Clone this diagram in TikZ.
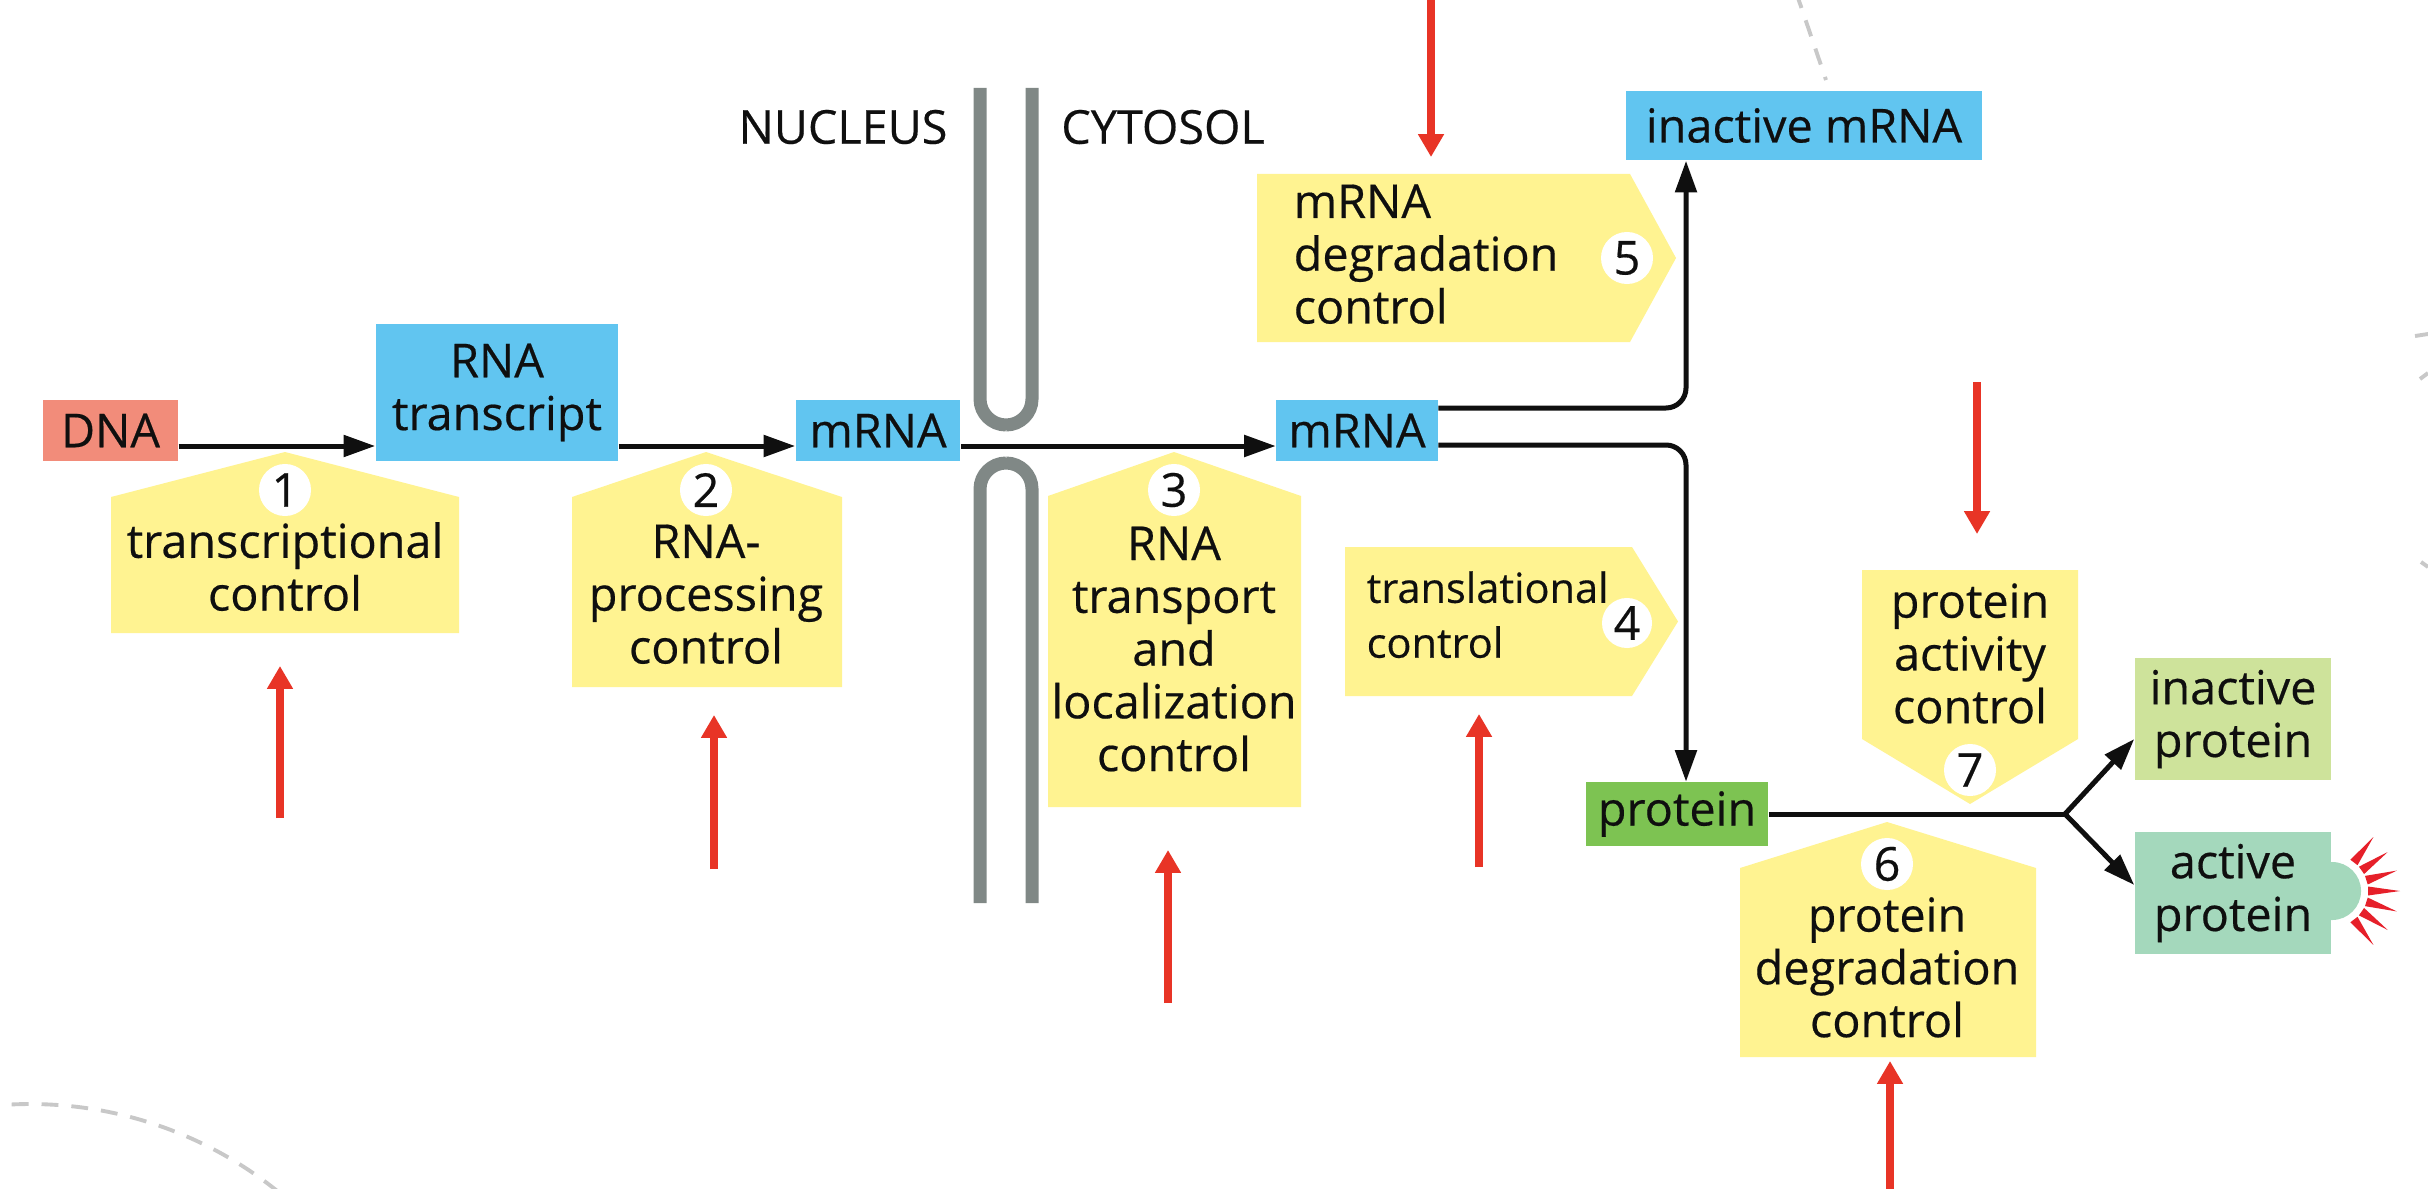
\documentclass[tikz,border=0pt]{standalone}
\usepackage{fontspec}
\setmainfont{Open Sans}[FakeBold=0.4]
\usetikzlibrary{arrows.meta,calc}
\definecolor{yel}{RGB}{255,243,145}
\definecolor{bluec}{RGB}{97,197,240}
\definecolor{dnac}{RGB}{242,140,122}
\definecolor{protc}{RGB}{125,195,82}
\definecolor{inpc}{RGB}{206,227,155}
\definecolor{actc}{RGB}{164,216,188}
\definecolor{membc}{RGB}{128,136,134}
\definecolor{redc}{RGB}{232,52,38}
\definecolor{rayc}{RGB}{230,32,42}
\definecolor{dashc}{RGB}{200,200,200}
\definecolor{txtc}{RGB}{15,15,15}
\newcommand\fsA{\fontsize{13.3pt}{15pt}\selectfont}
\newcommand\fsB{\fontsize{11.8pt}{15.6pt}\selectfont}
\begin{document}
\begin{tikzpicture}[x=0.01cm,y=-0.01cm,
  box/.style={inner sep=0pt, align=center, font=\fsA, text=txtc},
  blk/.style={line width=1.42pt, draw=txtc},
  blkarr/.style={blk, -{Triangle[length=9pt,width=6pt]}},
  redarr/.style={draw=redc, line width=2.3pt, -{Triangle[length=6.5pt,width=7pt]}},
  numc/.style={circle, fill=white, inner sep=0pt, minimum size=5.2mm, font=\fsA, text=txtc},
  ctext/.style={align=center, font=\fsA, inner sep=0pt, text=txtc},
  ltext/.style={align=left, font=\fsA, inner sep=0pt, anchor=west, text=txtc},
  memb/.style={draw=membc, line width=3.7pt, rounded corners=2.6mm},
  dgray/.style={draw=dashc, line width=1.1pt, dash pattern=on 4.8pt off 3.7pt}
]
\useasboundingbox (0,0) rectangle (2428,1188);
\fill[white] (0,0) rectangle (2428,1188);
\clip (0,0) rectangle (2428,1188);

% faint background arcs
\draw[dgray] plot[domain=-97:-50,samples=60] ({30+395*cos(\x)},{1499+395*sin(\x)});
\draw[dgray] (1796,-8) -- (1826,80);
\draw[draw=dashc, line width=1.1pt] (2415,336) -- (2428,334);
\draw[draw=dashc, line width=1.1pt] (2420,379) -- (2428,373);
\draw[draw=dashc, line width=1.1pt] (2421,562) -- (2428,567);

% nuclear membrane
\draw[memb] (980,88) -- (980,425) -- (1032,425) -- (1032,88);
\draw[memb] (980,903) -- (980,463) -- (1032,463) -- (1032,903);
\node[font=\fsA, text=txtc, inner sep=0pt] (nuc) at (843,127) {NUCLEUS};
\node[font=\fsA, text=txtc, inner sep=0pt] (cyt) at (1163,127) {CYTOSOL};

% yellow callouts
\fill[yel] (111,633) -- (111,497) -- (285,452) -- (459,497) -- (459,633) -- cycle;
\fill[yel] (572,687) -- (572,497) -- (706,452) -- (842,497) -- (842,687) -- cycle;
\fill[yel] (1048,807) -- (1048,496) -- (1174,452) -- (1301,496) -- (1301,807) -- cycle;
\fill[yel] (1345,547) -- (1632,547) -- (1678,621.5) -- (1632,696) -- (1345,696) -- cycle;
\fill[yel] (1257,174) -- (1630,174) -- (1676,258) -- (1630,342) -- (1257,342) -- cycle;
\fill[yel] (1740,1057) -- (1740,868) -- (1887,822) -- (2036,868) -- (2036,1057) -- cycle;
\fill[yel] (1862,570) -- (2078,570) -- (2078,739) -- (1970,804) -- (1862,739) -- cycle;

% active protein bump and rays
\coordinate (burst) at (2332,891);
\fill[actc] (burst) circle (2.9mm);
\foreach \a in {-52.5,-35,-17.5,0,17.5,35,52.5}
  \fill[rayc] ($(burst)+(\a:36)+(\a+90:4.5)$) -- ($(burst)+(\a:36)+(\a-90:4.5)$) -- ($(burst)+(\a:68)$) -- cycle;

% boxes
\node[box, fill=dnac, minimum width=13.5mm, minimum height=6.1mm] (dna) at (110.5,430.5) {DNA};
\node[box, fill=bluec, minimum width=24.2mm, minimum height=13.7mm] (rnat) at (497,392.5) {RNA\\transcript};
\node[box, fill=bluec, minimum width=16.4mm, minimum height=6.1mm] (mrna1) at (878,430.5) {mRNA};
\node[box, fill=bluec, minimum width=16.1mm, minimum height=6.1mm] (mrna2) at (1357,430.5) {mRNA};
\node[box, fill=bluec, minimum width=35.6mm, minimum height=6.9mm] (inmrna) at (1804,125.5) {inactive mRNA};
\node[box, fill=protc, minimum width=18.2mm, minimum height=6.3mm] (prot) at (1677,814) {protein};
\node[box, fill=inpc, minimum width=19.6mm, minimum height=12.2mm] (inprot) at (2233,719) {inactive\\protein};
\node[box, fill=actc, minimum width=19.6mm, minimum height=12.2mm] (actprot) at (2233,893) {active\\protein};

% black connectors
\coordinate (ml) at (0,446);
\coordinate (vx) at (1686,0);
\coordinate (br) at (2065,814);
\draw[blkarr] (dna.east |- ml) -- (rnat.west |- ml);
\draw[blkarr] (rnat.east |- ml) -- (mrna1.west |- ml);
\draw[blkarr] (mrna1.east |- ml) -- (mrna2.west |- ml);
\draw[blkarr, rounded corners=2mm] (mrna2.east |- 0,408) -| (vx |- inmrna.south);
\draw[blkarr, rounded corners=2mm] (mrna2.east |- 0,445) -| (vx |- prot.north);
\draw[blk] (prot.east) -- (br);
\draw[blkarr] (br) -- (inprot.west |- 0,739);
\draw[blkarr] (br) -- (actprot.west |- 0,885);

% number circles
\node[numc] (n1) at (285,490) {1};
\node[numc] (n2) at (706,490) {2};
\node[numc] (n3) at (1174,490) {3};
\node[numc, minimum size=5mm] (n4) at (1627,623) {4};
\node[numc] (n5) at (1627,258) {5};
\node[numc] (n6) at (1887,864) {6};
\node[numc] (n7) at (1970,770) {7};

% callout texts
\node[ctext] (t1) at (285,566.6) {transcriptional\\control};
\node[ctext] (t2) at (706,594.2) {RNA-\\processing\\control};
\node[ctext] (t3) at (1174,649) {RNA\\transport\\and\\localization\\control};
\node[ltext, font=\fsB] (t4) at (1366,614.7) {translational\\control};
\node[ltext] (t5) at (1293,254.2) {mRNA\\degradation\\control};
\node[ctext] (t6) at (1887,967.4) {protein\\degradation\\control};
\node[ctext] (t7) at (1970,653.5) {protein\\activity\\control};

% red arrows
\draw[redarr] (280,818) -- (280,666);
\draw[redarr] (714,869) -- (714,715);
\draw[redarr] (1168,1003) -- (1168,850);
\draw[redarr] (1479,867) -- (1479,714);
\draw[redarr] (1431,-5) -- (1431,157);
\draw[redarr] (1977,382) -- (1977,534);
\draw[redarr] (1890,1195) -- (1890,1061);
\end{tikzpicture}
\end{document}
